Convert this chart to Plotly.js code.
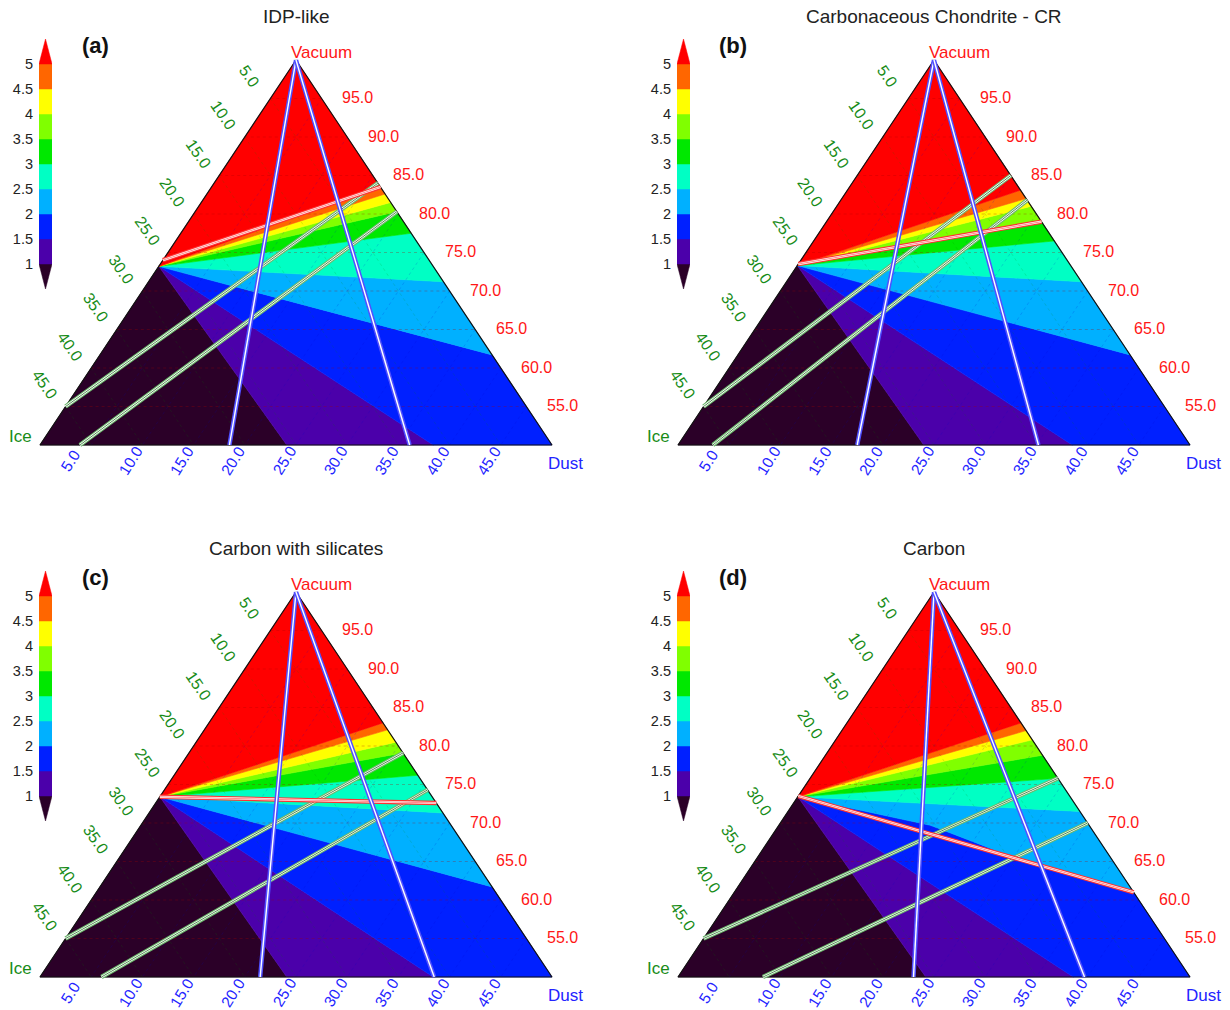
<!DOCTYPE html>
<html><head><meta charset="utf-8">
<script src="https://cdn.plot.ly/plotly-3.0.1.min.js"></script>
<style>html,body{margin:0;padding:0;background:#fff}#chart{width:1230px;height:1010px}</style>
</head><body><div id="chart"></div>
<script>
// ---------------- data ----------------
const levels = [1, 1.5, 2, 2.5, 3, 3.5, 4, 4.5, 5];
const levelText = ['1', '1.5', '2', '2.5', '3', '3.5', '4', '4.5', '5'];
const bandColors = ['rgb(43,0,40)', 'rgb(75,0,170)', 'rgb(0,32,255)', 'rgb(0,176,255)', 'rgb(0,255,196)',
                    'rgb(0,232,0)', 'rgb(128,255,0)', 'rgb(255,255,0)', 'rgb(255,102,0)', 'rgb(255,0,0)'];
const titles = ['IDP-like', 'Carbonaceous Chondrite - CR', 'Carbon with silicates', 'Carbon'];
const panelTags = ['(a)', '(b)', '(c)', '(d)'];
const iceTicks = [5, 10, 15, 20, 25, 30, 35, 40, 45];
const dustTicks = [5, 10, 15, 20, 25, 30, 35, 40, 45];
const vacTicks = [55, 60, 65, 70, 75, 80, 85, 90, 95];

// ice fraction of the left-edge point where the contour bands meet
const apexIce = [26.8, 26.7, 26.6, 26.6];

// end point of each contour level (1 ... 5) on the triangle edge:
// 'B' = on the bottom edge (Dust %), 'R' = on the right edge (Vacuum %)
// optional third item: inner points of a bent contour, as [Vacuum, Ice, Dust]
const skyBlueCurveD = [[69.7, 15.5, 14.8], [65.6, 9.5, 24.9]];
const boundsA = [['B', 24.1], ['B', 38.4], ['R', 61.7], ['R', 71.2], ['R', 77.5], ['R', 80.3], ['R', 81.5], ['R', 82.6], ['R', 83.6]];
const boundsB = [['B', 24.0], ['B', 38.5], ['R', 61.7], ['R', 71.2], ['R', 76.5], ['R', 79.0], ['R', 81.0], ['R', 82.0], ['R', 83.1]];
const boundsC = [['B', 24.1], ['B', 38.4], ['R', 61.7], ['R', 71.3], ['R', 76.2], ['R', 79.1], ['R', 80.5], ['R', 82.1], ['R', 83.0]];
const boundsD = [['B', 24.2], ['B', 38.6], ['R', 60.9, skyBlueCurveD], ['R', 71.5], ['R', 75.8], ['R', 78.8], ['R', 80.8], ['R', 82.0], ['R', 83.0]];

// lines from the Vacuum vertex to the bottom edge (Dust %)
const blueA = [18.5, 36.1];
const blueB = [17.5, 35.2];
const blueC = [21.5, 38.5];
const blueD = [23.0, 39.7];
// green lines: [start, end]; 'L' = left edge (Ice %), 'B' = bottom (Dust %), 'R' = right (Vacuum %)
const greenA = [[['L', 45], ['R', 84.0]], [['B', 3.9], ['R', 80.3]]];
const greenB = [[['L', 45], ['R', 85.0]], [['B', 3.4], ['R', 81.8]]];
const greenC = [[['L', 45], ['R', 79.1]], [['B', 6.0], ['R', 74.3]]];
const greenD = [[['L', 45], ['R', 75.8]], [['B', 8.3], ['R', 70.0]]];
// red line
const redA = [['L', 26.0], ['R', 83.5]];
const redB = [['L', 26.5], ['R', 79.0]];
const redC = [['L', 26.6], ['R', 72.6]];
const redD = [['L', 26.5], ['R', 61.0]];

// ---------------- drawing ----------------
const W = 1230, H = 1010;
const tops = [[296, 60], [934, 60], [296, 592], [934, 592]];
const HALF = 256, HGT = 385, PAD = 8;
const panels = [
  {bounds: boundsA, blue: blueA, green: greenA, red: redA},
  {bounds: boundsB, blue: blueB, green: greenB, red: redB},
  {bounds: boundsC, blue: blueC, green: greenC, red: redC},
  {bounds: boundsD, blue: blueD, green: greenD, red: redD}
];
const FONT = 'Liberation Sans, Arial, Helvetica, sans-serif';
const GREEN = 'rgb(24,140,24)', RED = 'rgb(255,22,22)', BLUE = 'rgb(36,36,255)';

function toXY(c) { return [(c[2] - c[1]) / 50, (c[0] - 50) / 50]; } // c = [V, I, D]
function edgePt(code, val) {
  if (code === 'T') return [100, 0, 0];
  if (code === 'L') return [100 - val, val, 0];
  if (code === 'B') return [50, 50 - val, val];
  return [val, 0, 100 - val];
}
function perimS(code, val) { return code === 'B' ? 1 + val / 50 : 2 + (val - 50) / 50; }
function perimPt(s, I0) {
  if (s <= 1) { const ice = I0 + (50 - I0) * s; return [100 - ice, ice, 0]; }
  if (s <= 2) { const d = 50 * (s - 1); return [50, 50 - d, d]; }
  if (s <= 3) { const v = 50 + 50 * (s - 2); return [v, 0, 100 - v]; }
  const ice = I0 * (s - 3); return [100 - ice, ice, 0];
}

const data = [];
const layout = {
  width: W, height: H, margin: {l: 0, r: 0, t: 0, b: 0},
  paper_bgcolor: '#fff', plot_bgcolor: 'rgba(0,0,0,0)', showlegend: false,
  annotations: [], font: {family: FONT}
};

function pathTrace(pts, xa, ya, extra) {
  const xy = pts.map(toXY);
  return Object.assign({type: 'scatter', mode: 'lines', x: xy.map(p => p[0]), y: xy.map(p => p[1]),
    xaxis: xa, yaxis: ya, hoverinfo: 'skip'}, extra);
}

panels.forEach((P, i) => {
  const [tx, ty] = tops[i];
  const n = i + 1, m = i + 5;
  const xa = 'x' + n, ya = 'y' + n;
  const xk = n === 1 ? 'xaxis' : 'xaxis' + n, yk = n === 1 ? 'yaxis' : 'yaxis' + n;
  layout[xk] = {domain: [(tx - HALF - PAD) / W, (tx + HALF + PAD) / W], range: [-1 - PAD / HALF, 1 + PAD / HALF],
                visible: false, fixedrange: true, anchor: ya};
  layout[yk] = {domain: [1 - (ty + HGT + PAD) / H, 1 - (ty - PAD) / H], range: [-PAD / HGT, 1 + PAD / HGT],
                visible: false, fixedrange: true, anchor: xa};

  const I0 = apexIce[i];
  const apex = [100 - I0, I0, 0];
  // each boundary: {s: perimeter position, inner: inner points from apex outward}
  const bl = [{s: 0, inner: []}].concat(P.bounds.map(b => ({s: perimS(b[0], b[1]), inner: b[2] || []})), [{s: 4, inner: []}]);
  for (let k = 0; k < bl.length - 1; k++) {
    const lo = bl[k], hi = bl[k + 1];
    const pts = [apex].concat(lo.inner, [perimPt(lo.s, I0)]);
    for (let v = Math.floor(lo.s) + 1; v < hi.s; v++) pts.push(perimPt(v, I0));
    pts.push(perimPt(hi.s, I0));
    for (let j = hi.inner.length - 1; j >= 0; j--) pts.push(hi.inner[j]);
    pts.push(apex);
    data.push(pathTrace(pts, xa, ya, {fill: 'toself', fillcolor: bandColors[k],
      line: {color: bandColors[k], width: 0.6}}));
  }
  // faint dotted grid
  vacTicks.forEach(v => data.push(pathTrace([[v, 100 - v, 0], [v, 0, 100 - v]], xa, ya,
    {line: {color: 'rgba(170,0,0,0.28)', width: 1, dash: 'dot'}})));
  iceTicks.forEach(t => data.push(pathTrace([[100 - t, t, 0], [50, t, 50 - t]], xa, ya,
    {line: {color: 'rgba(0,130,0,0.16)', width: 1, dash: 'dot'}})));
  dustTicks.forEach(t => data.push(pathTrace([[100 - t, 0, t], [50, 50 - t, t]], xa, ya,
    {line: {color: 'rgba(0,0,200,0.16)', width: 1, dash: 'dot'}})));
  // outline
  data.push(pathTrace([[100, 0, 0], [50, 50, 0], [50, 0, 50], [100, 0, 0]], xa, ya,
    {line: {color: '#111', width: 1.2}}));

  function dbl(pts, outer, ow, inner, iw, core) {
    data.push(pathTrace(pts, xa, ya, {line: {color: outer, width: ow}}));
    data.push(pathTrace(pts, xa, ya, {line: {color: inner, width: iw}}));
    if (core) data.push(pathTrace(pts, xa, ya, {line: {color: core, width: 0.8}}));
  }
  P.green.forEach(g => dbl([edgePt(g[0][0], g[0][1]), edgePt(g[1][0], g[1][1])], 'rgb(110,185,110)', 4.5, '#fff', 2.2, 'rgb(40,110,40)'));
  dbl([edgePt(P.red[0][0], P.red[0][1]), edgePt(P.red[1][0], P.red[1][1])], 'rgb(255,50,50)', 4.5, '#fff', 2.2, 'rgb(255,110,110)');
  P.blue.forEach(d => dbl([edgePt('T', 0), edgePt('B', d)], 'rgb(80,80,255)', 4.4, '#fff', 1.4, null));

  // tick labels
  const tf = (c, s) => ({family: FONT, size: s || 16, color: c});
  iceTicks.forEach(t => { const p = toXY(edgePt('L', t));
    layout.annotations.push({xref: xa, yref: ya, x: p[0], y: p[1], xshift: -21, yshift: 22, text: t.toFixed(1),
      textangle: 55, showarrow: false, font: tf(GREEN)}); });
  vacTicks.forEach(t => { const p = toXY(edgePt('R', t));
    layout.annotations.push({xref: xa, yref: ya, x: p[0], y: p[1], xshift: 36, yshift: 1, text: t.toFixed(1),
      showarrow: false, font: tf(RED)}); });
  dustTicks.forEach(t => { const p = toXY(edgePt('B', t)); const lbl = t.toFixed(1);
    const short = lbl.length < 4;
    layout.annotations.push({xref: xa, yref: ya, x: p[0], y: p[1], xshift: short ? -21 : -12, yshift: -15, text: lbl,
      textangle: -58, showarrow: false, borderpad: 0, font: tf(BLUE, 15.5)}); });
  // vertex names
  const vt = toXY([100, 0, 0]), vl = toXY([50, 50, 0]), vr = toXY([50, 0, 50]);
  layout.annotations.push({xref: xa, yref: ya, x: vt[0], y: vt[1], xshift: 25, yshift: 8, text: 'Vacuum', showarrow: false, font: {family: FONT, size: 17, color: RED}});
  layout.annotations.push({xref: xa, yref: ya, x: vl[0], y: vl[1], xshift: -20, yshift: 9, text: 'Ice', showarrow: false, font: {family: FONT, size: 17, color: GREEN}});
  layout.annotations.push({xref: xa, yref: ya, x: vr[0], y: vr[1], xshift: 13, yshift: -18, text: 'Dust', showarrow: false, font: {family: FONT, size: 17, color: BLUE}});
  // title and tag
  layout.annotations.push({xref: 'paper', yref: 'paper', x: tx / W, y: 1 - (16 + ty - 60) / H, text: titles[i], showarrow: false,
    xanchor: 'center', yanchor: 'middle', font: {family: FONT, size: 19, color: '#222'}});
  layout.annotations.push({xref: 'paper', yref: 'paper', x: (tx - 201) / W, y: 1 - (45 + ty - 60) / H, text: '<b>' + panelTags[i] + '</b>',
    showarrow: false, xanchor: 'center', yanchor: 'middle', font: {family: FONT, size: 22, color: '#111'}});

  // colour bar
  const cxa = 'x' + m, cya = 'y' + m;
  layout['xaxis' + m] = {domain: [(tx - 257) / W, (tx - 244) / W], range: [0, 1], visible: false, fixedrange: true, anchor: cya};
  layout['yaxis' + m] = {domain: [1 - (ty + 229) / H, 1 - (ty - 21) / H], range: [0.5, 5.5], fixedrange: true, anchor: cxa,
    showgrid: false, zeroline: false, showline: false, ticks: '', tickvals: levels, ticktext: levelText,
    tickfont: {family: FONT, size: 14.5, color: '#222'}, ticklabelstandoff: 5};
  for (let k = 0; k < bandColors.length; k++) {
    let xs, ys;
    if (k === 0) { xs = [0, 1, 0.5, 0]; ys = [levels[0], levels[0], 0.5, levels[0]]; }
    else if (k === bandColors.length - 1) { const L = levels[levels.length - 1]; xs = [0, 1, 0.5, 0]; ys = [L, L, 5.5, L]; }
    else { const a = levels[k - 1], b = levels[k]; xs = [0, 1, 1, 0, 0]; ys = [a, a, b, b, a]; }
    data.push({type: 'scatter', mode: 'lines', x: xs, y: ys, xaxis: cxa, yaxis: cya, fill: 'toself',
      fillcolor: bandColors[k], line: {color: bandColors[k], width: 0.5}, hoverinfo: 'skip'});
  }
});

Plotly.newPlot('chart', data, layout, {displayModeBar: false, staticPlot: true});
</script>
</body></html>
